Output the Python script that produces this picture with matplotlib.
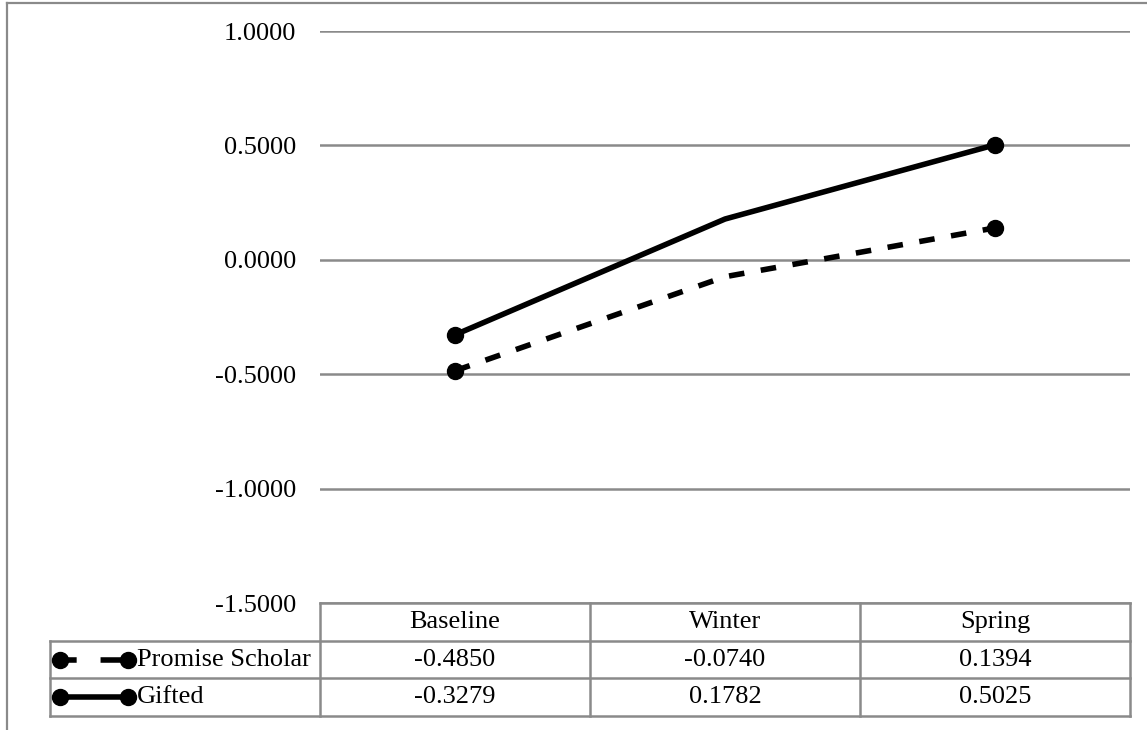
import matplotlib
matplotlib.use('Agg')
import matplotlib.pyplot as plt
from matplotlib.lines import Line2D
from matplotlib.transforms import blended_transform_factory

plt.rcParams['font.family'] = ['Liberation Serif', 'DejaVu Serif']

# data
periods = ['Baseline', 'Winter', 'Spring']
series_names = ['Promise Scholar', 'Gifted']
promise_scholar = [-0.4850, -0.0740, 0.1394]
gifted = [-0.3279, 0.1782, 0.5025]
y_ticks = [-1.5, -1.0, -0.5, 0.0, 0.5, 1.0]

W, H = 1147, 730
GRAY = '#8a8a8a'
FS = 19
LW = 4.0
MS = 11.5

fig = plt.figure(figsize=(W / 100, H / 100), dpi=100)
ax = fig.add_axes([320 / W, 1 - 603 / H, (1130 - 320) / W, (603 - 31) / H])

x = list(range(len(periods)))
styles = [dict(dashes=(2.8, 3.0)), dict(linestyle='-')]
icon_styles = [dict(dashes=(3.0, 4.3, 10, 1)), dict(linestyle='-')]
series = [promise_scholar, gifted]

for vals, st in zip(series, styles):
    ax.plot(x, vals, color='black', lw=LW, marker='o', ms=MS,
            markevery=[0, 2], solid_joinstyle='round', zorder=3, **st)

ax.set_xlim(-0.5, len(periods) - 0.5)
ax.set_ylim(y_ticks[0], y_ticks[-1])
ax.set_yticks(y_ticks)
ax.set_yticklabels([f'{v:.4f}' for v in y_ticks], fontsize=FS)
ax.set_xticks([])
ax.tick_params(length=0, pad=17)
ax.grid(axis='y', color=GRAY, lw=1.8)
ax.set_axisbelow(True)
for s in ax.spines.values():
    s.set_visible(False)

# data table under the plot
tr = blended_transform_factory(ax.transData, ax.transAxes)
row_h = 37.7 / 572
ys = [0, -row_h, -2 * row_h, -3 * row_h]
left = -1.5
right = len(periods) - 0.5
tl = dict(color=GRAY, lw=1.8, transform=tr, clip_on=False)

ax.add_line(Line2D([-0.5, right], [ys[0], ys[0]], **tl))
for yy in ys[1:]:
    ax.add_line(Line2D([left, right], [yy, yy], **tl))
ax.add_line(Line2D([left, left], [ys[1], ys[3]], **tl))
for xx in [i - 0.5 for i in range(len(periods) + 1)]:
    ax.add_line(Line2D([xx, xx], [ys[0], ys[3]], **tl))

for i, p in enumerate(periods):
    ax.text(i, (ys[0] + ys[1]) / 2, p, ha='center', va='center',
            fontsize=FS, transform=tr)

for r, (name, vals, ist) in enumerate(zip(series_names, series, icon_styles)):
    yc = (ys[r + 1] + ys[r + 2]) / 2
    for i, v in enumerate(vals):
        ax.text(i, yc, f'{v:.4f}', ha='center', va='center',
                fontsize=FS, transform=tr)
    ax.add_line(Line2D([-1.463, -1.211], [yc, yc], color='black', lw=LW,
                       marker='o', ms=MS, transform=tr, clip_on=False, **ist))
    ax.text(-1.178, yc, name, ha='left', va='center', fontsize=FS, transform=tr)

# outer chart border (cut off by the image edge)
fig.add_artist(Line2D([7 / W, 1], [1 - 2.5 / H] * 2, color=GRAY, lw=1.6,
                      transform=fig.transFigure))
fig.add_artist(Line2D([7 / W, 7 / W], [0, 1 - 2.5 / H], color=GRAY, lw=1.6,
                      transform=fig.transFigure))

fig.savefig('out.png', dpi=100)
